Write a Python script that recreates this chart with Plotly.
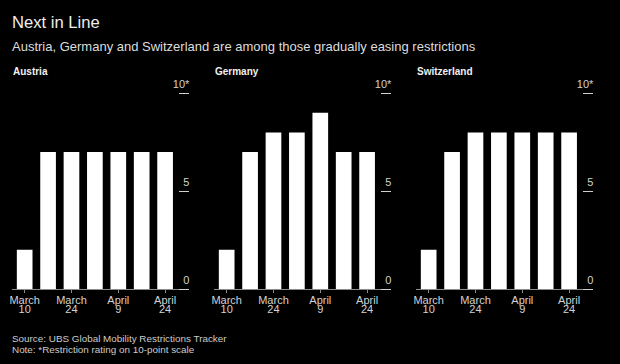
import plotly.graph_objects as go

# ---------------- data ----------------
dates = ["March 10", "March 17", "March 24", "April 1", "April 9", "April 16", "April 24"]
tick_dates = ["March 10", "March 24", "April 9", "April 24"]
tick_months = ["March", "March", "April", "April"]
tick_days = ["10", "24", "9", "24"]

countries = ["Austria", "Germany", "Switzerland"]
austria = [2, 7, 7, 7, 7, 7, 7]
germany = [2, 7, 8, 8, 9, 7, 7]
switzerland = [2, 7, 8, 8, 8, 8, 8]
series = [austria, germany, switzerland]

y_tickvals = [0, 5, 10]
y_ticktext = ["0", "5", "10*"]

title = "Next in Line"
subtitle = "Austria, Germany and Switzerland are among those gradually easing restrictions"
source = "Source: UBS Global Mobility Restrictions Tracker"
note = "Note: *Restriction rating on 10-point scale"

# ---------------- layout helpers ----------------
PAGE_W, PAGE_H = 620, 364
OFF = 8                      # default body margin of the html page
W, H = PAGE_W - 2 * OFF, PAGE_H - 2 * OFF
FONT = "Liberation Sans, Arial, Helvetica, sans-serif"
BG = "#000000"
AXIS = "#8c8c8c"
LABEL = "#d2d2d2"

def fx(px):
    return (px - OFF) / W

def fy(px):
    return 1 - (px - OFF) / H

panel_x0 = [11.8, 213.8, 415.8]
panel_w = 176.7
y_dom = [fy(289), fy(93.3)]
x_range = [-0.55, 7.0]

fig = go.Figure()
layout = dict(
    width=W, height=H,
    paper_bgcolor=BG, plot_bgcolor=BG,
    margin=dict(l=0, r=0, t=0, b=0, pad=0, autoexpand=False),
    showlegend=False,
    bargap=0.33,
    font=dict(family=FONT, color=LABEL, size=11),
)

annotations = []
for i, (name, vals) in enumerate(zip(countries, series)):
    n = i + 1
    xa = "x" if n == 1 else f"x{n}"
    ya = "y" if n == 1 else f"y{n}"
    fig.add_trace(go.Bar(x=dates, y=vals, xaxis=xa, yaxis=ya,
                         marker=dict(color="#ffffff", line=dict(width=0)),
                         hoverinfo="x+y"))
    d0 = fx(panel_x0[i])
    d1 = fx(panel_x0[i] + panel_w)
    key_x = "xaxis" if n == 1 else f"xaxis{n}"
    key_y = "yaxis" if n == 1 else f"yaxis{n}"
    layout[key_x] = dict(
        domain=[d0, d1], anchor=ya, type="category", automargin=False,
        categoryorder="array", categoryarray=dates,
        range=x_range, showgrid=False, zeroline=False,
        showline=True, linecolor=AXIS, linewidth=1,
        ticks="outside", ticklen=3, tickcolor=AXIS, tickwidth=1,
        tickvals=tick_dates, ticktext=tick_months,
        tickfont=dict(size=11, color=LABEL, family=FONT),
        ticklabelstandoff=-2,
        fixedrange=True,
    )
    layout[key_y] = dict(
        domain=y_dom, anchor="free", position=d1, side="left", automargin=False,
        range=[0, 10], showgrid=False, zeroline=False, showline=False,
        ticks="outside", ticklen=10, tickcolor="#cfcfcf", tickwidth=1,
        tickvals=y_tickvals, ticktext=y_ticktext,
        tickfont=dict(size=11, color=LABEL, family=FONT),
        ticklabelstandoff=-13, ticklabelshift=-9,
        fixedrange=True,
    )
    # overlay axis carrying the day numbers (second line of date labels)
    m = n + 3
    key_x2 = f"xaxis{m}"
    layout[key_x2] = dict(
        domain=[d0, d1], anchor=ya, overlaying=xa, side="bottom", automargin=False,
        type="category", categoryorder="array", categoryarray=dates,
        range=x_range, showgrid=False, zeroline=False, showline=False,
        ticks="", tickvals=tick_dates, ticktext=tick_days,
        tickfont=dict(size=11, color=LABEL, family=FONT),
        ticklabelstandoff=12, fixedrange=True,
    )
    fig.add_trace(go.Scatter(x=[], y=[], xaxis=f"x{m}", yaxis=ya,
                             mode="markers", hoverinfo="skip", showlegend=False))
    annotations.append(dict(text=f"<b>{name}</b>", x=fx(panel_x0[i] - 0.8),
                            y=fy(71.7), xref="paper", yref="paper",
                            xanchor="left", yanchor="middle", showarrow=False,
                            font=dict(size=10, color="#f0f0f0", family=FONT)))

annotations += [
    dict(text=title, x=fx(10), y=fy(22.3), xref="paper", yref="paper",
         xanchor="left", yanchor="middle", showarrow=False,
         font=dict(size=16.6, color="#eeeeee", family=FONT)),
    dict(text=subtitle, x=fx(10), y=fy(46.5), xref="paper", yref="paper",
         xanchor="left", yanchor="middle", showarrow=False,
         font=dict(size=13.0, color="#dddddd", family=FONT)),
    dict(text=source, x=fx(10), y=fy(338.5), xref="paper", yref="paper",
         xanchor="left", yanchor="middle", showarrow=False,
         font=dict(size=9.9, color="#cccccc", family=FONT)),
    dict(text=note, x=fx(10), y=fy(349.5), xref="paper", yref="paper",
         xanchor="left", yanchor="middle", showarrow=False,
         font=dict(size=9.9, color="#cccccc", family=FONT)),
]
layout["annotations"] = annotations
fig.update_layout(**layout)
fig.write_html(
    "out.html",
    config={"displayModeBar": False},
    post_script="document.body.style.background='#000000';"
                "document.documentElement.style.background='#000000';",
)
